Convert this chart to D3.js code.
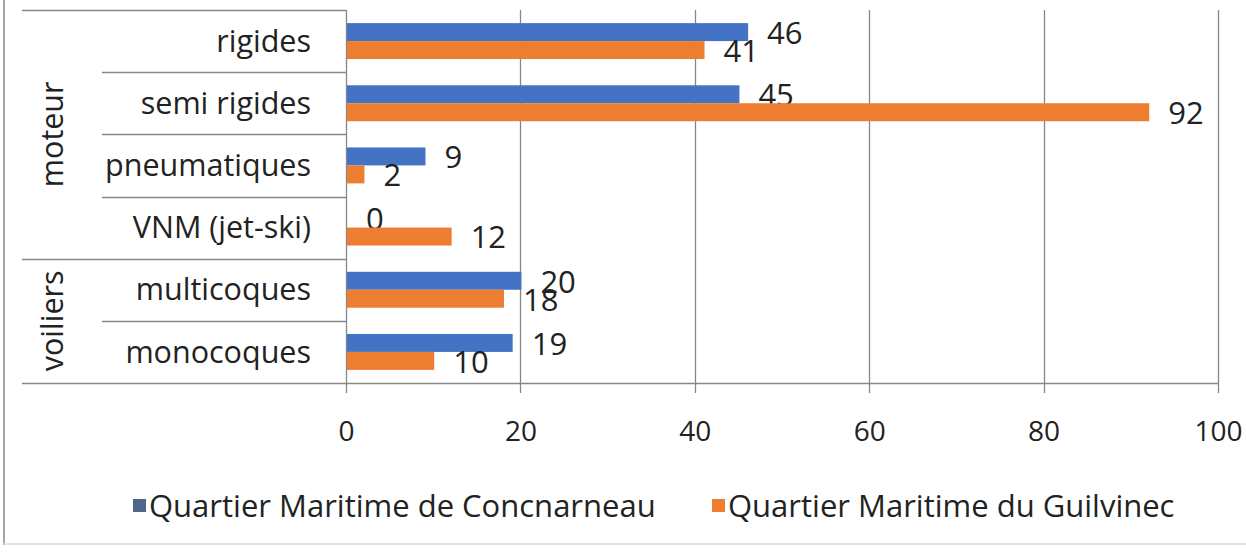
<!DOCTYPE html>
<html>
<head>
<meta charset="utf-8">
<script src="https://cdn.jsdelivr.net/npm/d3@7"></script>
<style>
  body { margin: 0; background: #fff; }
  text { font-family: "Open Sans", "Noto Sans", sans-serif; fill: #222; }
</style>
</head>
<body>
<svg id="chart" width="1246" height="555"></svg>
<script>
// # DATA
// # ------------------------------
var categories  = ["rigides", "semi rigides", "pneumatiques", "VNM (jet-ski)", "multicoques", "monocoques"];
var group_names = ["moteur", "voiliers"];
var group_sizes = [4, 2];
var series_names = ["Quartier Maritime de Concnarneau", "Quartier Maritime du Guilvinec"];
var concarneau  = [46, 45, 9, 0, 20, 19];
var guilvinec   = [41, 92, 2, 12, 18, 10];
var x_ticks     = [0, 20, 40, 60, 80, 100];

var colors = ["#4472C4", "#ED7D31"];
var legend_colors = ["#4f6688", "#ED7D31"];
var grid_color = "#878787";

// # SETUP
// # ------------------------------
var svg = d3.select("#chart");

var x = d3.scaleLinear().domain([0, 100]).range([346, 1218]);
var y = d3.scaleBand().domain(categories).range([10, 383]);
var sub = d3.scaleBand().domain([0, 1]).range([0, y.bandwidth()]).paddingOuter(0.73);

var series = [concarneau, guilvinec];

// ## frame
svg.append("rect").attr("width", 1246).attr("height", 555).attr("fill", "#fff");
svg.append("line").attr("x1", 4).attr("x2", 4).attr("y1", 0).attr("y2", 545)
   .attr("stroke", "#a6a6a6").attr("stroke-width", 2);
svg.append("line").attr("x1", 4).attr("x2", 1246).attr("y1", 544).attr("y2", 544)
   .attr("stroke", "#e2e2e2").attr("stroke-width", 2);

// ## gridlines + x axis
var g_grid = svg.append("g");
g_grid.selectAll("line")
   .data(x_ticks)
   .enter().append("line")
   .attr("x1", function(d) { return Math.round(x(d)) + 0.5; })
   .attr("x2", function(d) { return Math.round(x(d)) + 0.5; })
   .attr("y1", 10)
   .attr("y2", 393)
   .attr("stroke", grid_color)
   .attr("stroke-width", 1.3);

var x_axis = d3.axisBottom(x).tickValues(x_ticks).tickSize(0).tickPadding(38);
var g_x = svg.append("g").attr("transform", "translate(0,383)").call(x_axis);
g_x.select(".domain").remove();
g_x.selectAll("text")
   .style("font-size", "28px")
   .attr("font-family", null)
   .attr("fill", "#222");

svg.append("line").attr("x1", 22).attr("x2", 1218).attr("y1", 383.5).attr("y2", 383.5)
   .attr("stroke", grid_color).attr("stroke-width", 1.5);

// ## category separators
var cat_edges = categories.map(function(c) { return y(c); });
var group_start = {};
var idx = 0;
for (var i = 0; i < group_sizes.length; i++) {
  group_start[idx] = true;
  idx = idx + group_sizes[i];
}
svg.append("g").selectAll("line")
   .data(cat_edges)
   .enter().append("line")
   .attr("x1", function(d, i) { return group_start[i] ? 22 : 102; })
   .attr("x2", 346)
   .attr("y1", function(d) { return Math.round(d) + 0.5; })
   .attr("y2", function(d) { return Math.round(d) + 0.5; })
   .attr("stroke", grid_color)
   .attr("stroke-width", 1.3);

// ## category labels
svg.append("g").selectAll("text")
   .data(categories)
   .enter().append("text")
   .attr("x", 311)
   .attr("y", function(d) { return y(d) + y.bandwidth() / 2; })
   .attr("text-anchor", "end")
   .attr("dy", "0.35em")
   .style("font-size", "30.5px")
   .text(function(d) { return d; });

// ## group labels
var g_start = 0;
group_names.forEach(function(name, i) {
  var y0 = y(categories[g_start]);
  var y1 = y(categories[g_start + group_sizes[i] - 1]) + y.bandwidth();
  svg.append("text")
     .attr("transform", "translate(52," + ((y0 + y1) / 2) + ") rotate(-90)")
     .attr("text-anchor", "middle")
     .attr("dy", "0.35em")
     .style("font-size", "30.5px")
     .text(name);
  g_start = g_start + group_sizes[i];
});

// ## bars
series.forEach(function(vals, s) {
  var g_bar = svg.append("g");
  g_bar.selectAll("rect")
     .data(vals)
     .enter().append("rect")
     .attr("x", x(0) + 1)
     .attr("y", function(d, i) { return y(categories[i]) + sub(s); })
     .attr("width", function(d) { return Math.max(0, x(d) - x(0)); })
     .attr("height", sub.bandwidth())
     .attr("fill", colors[s]);

  g_bar.selectAll("text")
     .data(vals)
     .enter().append("text")
     .attr("x", function(d) { return x(d) + 20; })
     .attr("y", function(d, i) { return y(categories[i]) + sub(s) + sub.bandwidth() / 2 + 1; })
     .attr("dy", "0.35em")
     .style("font-size", "31px")
     .text(function(d) { return d; });
});

// ## legend
var legend_x = [133, 712];
series_names.forEach(function(name, i) {
  svg.append("rect")
     .attr("x", legend_x[i]).attr("y", 499)
     .attr("width", 13).attr("height", 13)
     .attr("fill", legend_colors[i]);
  svg.append("text")
     .attr("x", legend_x[i] + 16)
     .attr("y", 506)
     .attr("dy", "0.35em")
     .style("font-size", "31px")
     .text(name);
});
</script>
</body>
</html>
